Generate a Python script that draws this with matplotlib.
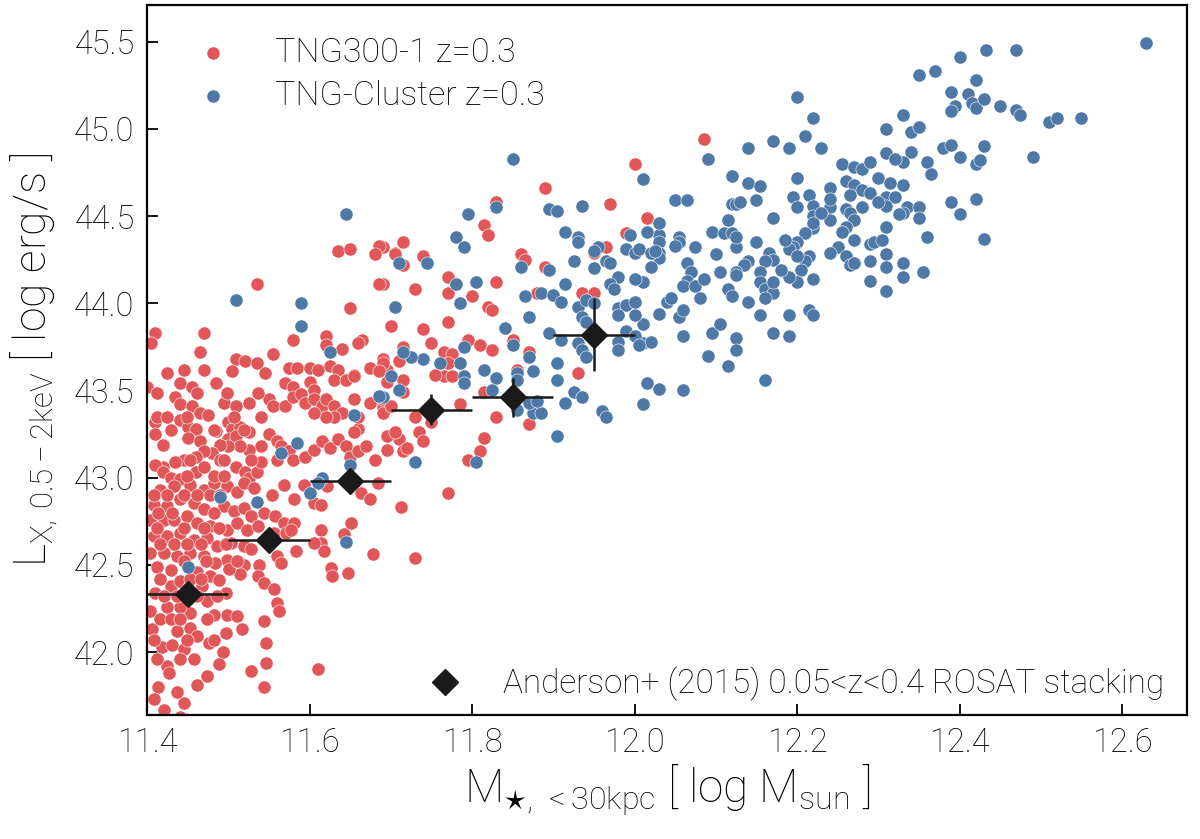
import matplotlib
matplotlib.use("Agg")
import matplotlib.pyplot as plt
from matplotlib.lines import Line2D

plt.rcParams['font.family'] = ['Roboto', 'DejaVu Sans']
plt.rcParams['font.weight'] = 'light'
plt.rcParams['axes.labelweight'] = 'light'
plt.rcParams['mathtext.fontset'] = 'custom'
plt.rcParams['mathtext.rm'] = 'Roboto:light'
plt.rcParams['mathtext.it'] = 'Roboto:light'
plt.rcParams['mathtext.bf'] = 'Roboto:light'
plt.rcParams['mathtext.fallback'] = 'stixsans'

# ---------------- data ----------------
# TNG300-1 z=0.3 : stellar mass (<30kpc) and L_X
tng300_mass = [
    12.085, 12.015, 12.00, 11.89, 11.97, 11.83, 11.815, 11.82, 11.715, 11.705, 11.715, 11.69, 11.74,
    11.86, 11.865, 11.89, 11.965, 11.95, 11.99, 11.77, 11.77, 11.73, 11.83, 11.80, 11.69, 11.88,
    11.935, 11.95, 11.82, 11.825, 11.77, 11.74, 11.75, 11.70, 11.795, 11.81, 11.825, 11.85, 11.87,
    11.765, 11.775, 11.77, 11.765, 11.775, 11.755, 11.715, 11.71, 11.69, 11.695, 11.695, 11.69,
    11.855, 11.93, 11.785, 11.83, 11.87, 11.815, 11.75, 11.73, 11.735, 11.74, 11.71, 11.695, 11.695,
    11.715, 11.72, 11.815, 11.81, 11.795, 11.69, 11.69,
    11.635, 11.65, 11.685, 11.68, 11.705,
    11.535, 11.685, 11.65, 11.47, 11.41, 11.405, 11.465, 11.58, 11.62, 11.62, 11.64, 11.665, 11.66,
    11.555, 11.51, 11.52, 11.535, 11.425, 11.445, 11.47, 11.505, 11.545, 11.575, 11.585, 11.60, 11.61,
    11.625, 11.635, 11.655, 11.675, 11.69, 11.685, 11.40, 11.44, 11.455, 11.485, 11.57, 11.58, 11.60,
    11.605, 11.63, 11.645, 11.655,
    11.435, 11.44, 11.455, 11.465, 11.475, 11.495, 11.51, 11.525, 11.55, 11.555, 11.57, 11.58, 11.59,
    11.595, 11.605, 11.615, 11.62, 11.63, 11.64, 11.63, 11.62, 11.605, 11.655, 11.675, 11.69, 11.70,
    11.715, 11.715,
    11.41, 11.41, 11.42, 11.44, 11.45, 11.46, 11.45, 11.465, 11.485, 11.50, 11.505, 11.515, 11.525,
    11.50, 11.51,
    11.55, 11.56, 11.565, 11.575, 11.54, 11.525, 11.515, 11.50, 11.49, 11.48, 11.47, 11.46, 11.445,
    11.435, 11.42, 11.41, 11.42, 11.43, 11.44, 11.46, 11.47, 11.49, 11.51, 11.52, 11.525, 11.535,
    11.54, 11.58, 11.595, 11.605, 11.615, 11.625, 11.635, 11.645, 11.65, 11.66, 11.67, 11.68, 11.705,
    11.66, 11.655, 11.66,
    11.77, 11.73,
    11.416, 11.433, 11.453, 11.47, 11.482, 11.499, 11.511, 11.519, 11.532, 11.554, 11.569, 11.581,
    11.593, 11.606, 11.614, 11.622, 11.655, 11.663, 11.674, 11.684, 11.713,
    11.408, 11.425, 11.441, 11.458, 11.47, 11.495, 11.507, 11.519, 11.528, 11.544, 11.558, 11.569,
    11.581, 11.614, 11.614, 11.643, 11.651, 11.618, 11.626, 11.628, 11.647, 11.678,
    11.404, 11.421, 11.433, 11.449, 11.462, 11.478, 11.499, 11.511, 11.523, 11.536, 11.556, 11.571,
    11.577, 11.583, 11.606,
    11.408, 11.425, 11.441, 11.458, 11.474, 11.486, 11.503, 11.519, 11.528, 11.56, 11.565, 11.538,
    11.519, 11.499, 11.515, 11.501, 11.536, 11.544, 11.556, 11.56, 11.563,
    11.404, 11.421, 11.437, 11.453, 11.47, 11.484, 11.412, 11.429, 11.462, 11.478, 11.488, 11.497,
    11.499, 11.511, 11.517, 11.497, 11.493, 11.488, 11.476, 11.474, 11.462, 11.445, 11.437, 11.425,
    11.419, 11.406, 11.404, 11.41, 11.429, 11.441, 11.451, 11.468, 11.474, 11.482, 11.453, 11.441,
    11.425, 11.416, 11.437, 11.453, 11.462, 11.431, 11.445, 11.458, 11.427, 11.414, 11.408, 11.421,
    11.441, 11.466,
    11.544, 11.546, 11.546, 11.528, 11.544, 11.61,
    11.408, 11.425, 11.445, 11.462, 11.478, 11.49,
    11.414, 11.431, 11.482,
    11.412, 11.445, 11.47, 11.488,
    11.416, 11.433, 11.449, 11.466, 11.497,
    11.445, 11.472, 11.511,
    11.416, 11.453, 11.466,
    11.421, 11.437, 11.462, 11.486,
    11.429, 11.441, 11.474,
    11.408, 11.449, 11.482,
    11.412, 11.441,
    11.412, 11.462, 11.499, 11.536,
    11.412, 11.425, 11.449, 11.507, 11.54,
    11.429, 11.482, 11.519,
    11.449, 11.482, 11.495,
    11.453, 11.495, 11.528, 11.56,
]
tng300_lx = [
    44.94, 44.49, 44.80, 44.66, 44.57, 44.58, 44.45, 44.39, 44.35, 44.29, 44.22, 44.32, 44.27,
    44.28, 44.25, 44.21, 44.32, 44.29, 44.40, 44.15, 44.06, 44.08, 44.12, 44.04, 44.11, 44.06,
    44.06, 44.06, 43.98, 43.96, 43.89, 43.85, 43.77, 43.87, 43.79, 43.76, 43.73, 43.79, 43.72,
    43.72, 43.71, 43.66, 43.58, 43.58, 43.59, 43.75, 43.67, 43.68, 43.62, 43.55, 43.43,
    43.62, 43.60, 43.42, 43.35, 43.31, 43.49, 43.32, 43.35, 43.26, 43.21, 43.22, 43.24, 43.16,
    43.15, 43.17, 43.23, 43.15, 43.10, 43.40, 43.37,
    44.30, 44.31, 44.33, 44.28, 44.28,
    44.11, 44.11, 43.97, 43.83, 43.83, 43.77, 43.72, 43.79, 43.81, 43.76, 43.74, 43.79, 43.77,
    43.71, 43.68, 43.67, 43.66, 43.60, 43.62, 43.62, 43.61, 43.60, 43.63, 43.63, 43.63, 43.62,
    43.64, 43.62, 43.59, 43.63, 43.66, 43.61, 43.52, 43.54, 43.52, 43.54, 43.54, 43.52, 43.55,
    43.50, 43.56, 43.56, 43.58,
    43.46, 43.42, 43.41, 43.37, 43.36, 43.43, 43.41, 43.43, 43.45, 43.41, 43.41, 43.46, 43.48,
    43.43, 43.45, 43.41, 43.45, 43.41, 43.37, 43.35, 43.35, 43.37, 43.45, 43.43, 43.45, 43.41,
    43.49, 43.56,
    43.32, 43.25, 43.19, 43.33, 43.29, 43.28, 43.23, 43.21, 43.27, 43.32, 43.28, 43.29, 43.26,
    43.22, 43.24,
    43.25, 43.21, 43.18, 43.15, 43.18, 43.16, 43.18, 43.18, 43.19, 43.14, 43.15, 43.12, 43.10,
    43.09, 43.06, 43.07, 43.03, 43.00, 42.99, 43.03, 43.06, 43.10, 43.06, 43.03, 43.00, 43.03,
    43.09, 43.10, 43.12, 43.16, 43.21, 43.17, 43.22, 43.18, 43.12, 43.15, 43.18, 43.10, 43.26,
    43.28, 43.26, 43.35,
    42.91, 42.54,
    42.93, 42.95, 42.96, 42.93, 42.97, 42.95, 42.92, 42.97, 42.94, 42.90, 42.96, 42.875,
    42.96, 42.855, 42.845, 42.95, 42.97, 42.91, 42.875, 42.97, 42.83,
    42.845, 42.835, 42.875, 42.855, 42.82, 42.835, 42.81, 42.825, 42.78, 42.80, 42.78, 42.74,
    42.74, 42.70, 42.625, 42.675, 42.74, 42.58, 42.48, 42.435, 42.455, 42.56,
    42.76, 42.76, 42.76, 42.78, 42.74, 42.72, 42.70, 42.74, 42.70, 42.72, 42.68, 42.68,
    42.70, 42.58, 42.625,
    42.665, 42.665, 42.68, 42.645, 42.655, 42.61, 42.625, 42.61, 42.59, 42.55, 42.51, 42.50,
    42.50, 42.53, 42.445, 42.475, 42.435, 42.395, 42.36, 42.28, 42.235,
    42.57, 42.57, 42.55, 42.57, 42.55, 42.51, 42.49, 42.47, 42.46, 42.435, 42.415, 42.34,
    42.215, 42.205, 42.13, 42.11, 42.00, 41.93, 42.05, 41.86, 41.81, 41.71, 41.77, 41.92,
    42.03, 42.13, 42.235, 42.34, 42.38, 42.41, 42.37, 42.38, 42.29, 42.215, 42.225, 42.26,
    42.26, 42.19, 42.12, 42.14, 42.09, 42.04, 42.015, 41.96, 41.88, 41.80, 41.73, 41.67,
    41.63, 41.61,
    42.18, 42.05, 41.94, 41.89, 41.80, 41.90,
    42.90, 42.90, 42.90, 42.90, 42.90, 42.90,
    42.80, 42.80, 42.80,
    42.71, 42.71, 42.71, 42.71,
    42.617, 42.617, 42.617, 42.617, 42.617,
    42.52, 42.52, 42.52,
    42.416, 42.416, 42.416,
    42.32, 42.32, 42.32, 42.32,
    42.19, 42.19, 42.19,
    42.07, 42.07, 42.07,
    41.96, 41.96,
    43.485, 43.485, 43.485, 43.485,
    43.35, 43.35, 43.35, 43.35, 43.35,
    43.275, 43.275, 43.275,
    43.007, 43.007, 43.007,
    43.10, 43.10, 43.10, 43.10,
]

# TNG-Cluster z=0.3
cluster_mass = [
    12.63, 12.433, 12.47, 12.40, 12.35, 12.37, 12.42, 12.39, 12.41, 12.395, 12.39, 12.415, 12.42,
    12.43, 12.45, 12.47, 12.475, 12.51, 12.52, 12.55, 12.33, 12.34, 12.35, 12.38, 12.39, 12.43,
    12.34, 12.33, 12.36, 12.365, 12.40, 12.42, 12.425, 12.49, 12.33, 12.335, 12.33, 12.35, 12.35,
    12.39, 12.40, 12.42, 12.36, 12.43, 12.33, 12.33, 12.355,
    12.20, 12.22, 12.21, 12.17, 12.19, 12.14, 12.09, 12.23, 12.31, 12.31, 12.32, 12.255, 12.27,
    12.28, 12.29, 12.30, 12.315, 12.20, 12.26, 12.27, 12.24, 12.28, 12.29, 12.265, 12.31, 12.32,
    12.31, 12.30, 12.28, 12.26, 12.265, 12.27, 12.26, 12.255, 12.24, 12.24, 12.24, 12.215, 12.22,
    12.22, 12.195, 12.20, 12.23, 12.22, 12.22, 12.21, 12.325, 12.31, 12.27, 12.29, 12.295, 12.305,
    12.25, 12.26, 12.24, 12.265, 12.27, 12.29, 12.31, 12.31, 12.29, 12.31, 12.20, 12.195, 12.19,
    12.185, 12.215, 12.21, 12.20, 12.205, 12.22, 12.20, 12.19, 12.165, 12.17, 12.16, 12.155, 12.18,
    12.155, 12.16, 12.17, 12.16, 12.17, 12.15, 12.17, 12.14, 12.135, 12.125, 12.125, 12.115, 12.12,
    12.14, 12.105, 12.10, 12.125, 12.095, 12.11, 12.12, 12.125, 12.115, 12.12, 12.125, 12.13, 12.15,
    12.14, 12.155, 12.12, 12.075, 12.05, 12.065, 12.055, 12.055, 12.05, 12.03, 12.03, 12.03, 12.03,
    12.015, 12.03, 12.01, 12.02, 12.01, 12.065, 12.07, 12.065, 12.06, 12.075, 12.085, 12.08, 12.04,
    12.045, 12.03, 12.055, 12.06, 12.01, 12.01, 12.02, 12.06, 12.09, 12.095, 12.105, 12.125, 12.125,
    12.115, 12.155, 12.17, 12.19, 12.19, 12.215, 12.22, 12.16, 12.015, 12.03, 12.06, 12.01,
    11.98, 11.99, 11.98, 12.00, 12.00, 11.99, 11.98, 11.98, 12.00, 12.005, 11.96, 11.965,
    11.85, 11.795, 11.83, 11.895, 11.905, 11.935, 11.78, 11.79, 11.915, 11.93, 11.93, 11.955, 11.95,
    11.995, 11.99, 12.00, 12.005, 12.02, 12.025, 11.71, 11.745, 11.86, 11.895, 11.925, 11.95, 11.965,
    11.97, 11.78, 11.805, 11.98, 11.97, 11.975, 12.00, 11.915, 11.865, 11.885, 11.90, 11.91, 11.785,
    11.705, 11.93, 11.935, 11.94, 11.94, 11.95, 11.87, 11.84, 11.79, 11.895, 11.91, 11.93, 11.935,
    11.94, 11.85, 11.87, 11.875, 11.855, 11.855, 11.83, 11.825, 11.815, 11.785, 11.79, 11.79, 11.76,
    11.74, 11.725, 11.715, 11.70, 11.71, 11.69, 11.905, 11.905, 11.915, 11.925, 11.935, 11.855,
    11.875, 11.885, 11.87, 11.88, 11.905, 11.73, 11.805,
    11.51, 11.59, 11.59, 11.625, 11.685, 11.655, 11.585, 11.565, 11.65, 11.615, 11.61, 11.49,
    11.535, 11.60, 11.645, 11.45, 11.645,
]
cluster_lx = [
    45.49, 45.45, 45.45, 45.41, 45.31, 45.33, 45.28, 45.21, 45.20, 45.13, 45.10, 45.15, 45.12,
    45.17, 45.13, 45.11, 45.08, 45.04, 45.06, 45.06, 45.08, 44.98, 45.01, 44.89, 44.91, 44.90,
    44.87, 44.81, 44.81, 44.74, 44.84, 44.80, 44.82, 44.84, 44.68, 44.55, 44.52, 44.55, 44.49,
    44.58, 44.51, 44.60, 44.38, 44.37, 44.23, 44.15, 44.18,
    45.18, 45.06, 44.96, 44.93, 44.89, 44.89, 44.83, 44.89, 45.00, 44.86, 44.83, 44.80, 44.78,
    44.77, 44.81, 44.72, 44.69, 44.72, 44.70, 44.68, 44.66, 44.65, 44.63, 44.62, 44.61, 44.61,
    44.56, 44.58, 44.55, 44.54, 44.52, 44.48, 44.44, 44.41, 44.55, 44.60, 44.48, 44.62, 44.56,
    44.50, 44.61, 44.55, 44.52, 44.43, 44.46, 44.40, 44.51, 44.44, 44.36, 44.34, 44.35, 44.36,
    44.32, 44.27, 44.29, 44.22, 44.23, 44.24, 44.28, 44.21, 44.13, 44.07, 44.35, 44.32, 44.31,
    44.36, 44.27, 44.24, 44.27, 44.19, 44.14, 44.12, 44.15, 44.29, 44.25, 44.24, 44.18, 44.19,
    44.12, 44.08, 44.06, 44.03, 44.12, 44.35, 44.49, 44.24, 44.22, 44.18, 44.16, 44.08, 44.04,
    44.01, 44.18, 44.28, 44.32, 44.41, 44.40, 44.40, 44.38, 44.48, 44.57, 44.57, 44.58, 44.59,
    44.69, 44.67, 44.73, 44.32, 44.59, 44.59, 44.38, 44.35, 44.33, 44.39, 44.35, 44.29, 44.26,
    44.41, 44.46, 44.71, 44.21, 44.12, 44.23, 44.18, 44.13, 44.10, 44.10, 44.14, 44.03, 44.01,
    44.03, 43.94, 43.92, 43.96, 43.88, 43.77, 43.78, 43.81, 43.70, 43.83, 43.88, 43.80, 43.73,
    43.64, 43.93, 43.83, 43.81, 43.93, 43.96, 43.93, 43.56, 43.54, 43.51, 43.50, 43.42,
    43.97, 43.99, 43.93, 43.93, 44.01, 43.84, 43.78, 43.73, 43.81, 43.76, 43.38, 43.35,
    44.83, 44.51, 44.55, 44.54, 44.53, 44.56, 44.38, 44.32, 44.41, 44.38, 44.35, 44.32, 44.30,
    44.39, 44.31, 44.29, 44.31, 44.29, 44.30, 44.23, 44.23, 44.21, 44.19, 44.24, 44.20, 44.24,
    44.23, 44.11, 44.12, 44.15, 44.11, 44.08, 44.14, 44.11, 44.04, 44.06, 44.05, 44.01, 44.00,
    43.98, 43.98, 43.92, 43.89, 44.02, 44.00, 43.92, 43.86, 43.75, 43.83, 43.79, 43.77, 43.73,
    43.69, 43.76, 43.69, 43.61, 43.60, 43.56, 43.57, 43.50, 43.62, 43.66, 43.58, 43.54, 43.66,
    43.68, 43.69, 43.72, 43.58, 43.50, 43.46, 43.66, 43.56, 43.43, 43.49, 43.46, 43.39,
    43.37, 43.37, 43.43, 43.44, 43.24, 43.09, 43.09,
    44.02, 44.00, 43.87, 43.72, 43.47, 43.36, 43.20, 43.14, 43.07, 43.00, 42.97, 42.89,
    42.86, 42.91, 42.63, 42.49, 44.51,
]

# Anderson+ (2015) ROSAT stacking
anderson_mass = [11.45, 11.55, 11.65, 11.75, 11.85, 11.95]
anderson_lx = [42.33, 42.64, 42.98, 43.39, 43.46, 43.82]
anderson_mass_err = [0.05, 0.05, 0.05, 0.05, 0.05, 0.05]
anderson_lx_err = [0.02, 0.03, 0.03, 0.09, 0.11, 0.21]

RED = '#e15759'
BLUE = '#4e79a7'

fig = plt.figure(figsize=(12, 8.39), dpi=100)
ax = fig.add_axes([0.1225, 0.148, 0.8667, 0.846])

sc1 = ax.scatter(tng300_mass, tng300_lx, s=90, c=RED, edgecolors='white',
                 linewidths=0.4, zorder=2, label='TNG300-1 z=0.3')
sc2 = ax.scatter(cluster_mass, cluster_lx, s=90, c=BLUE, edgecolors='white',
                 linewidths=0.4, zorder=3, label='TNG-Cluster z=0.3')
ax.errorbar(anderson_mass, anderson_lx, xerr=anderson_mass_err, yerr=anderson_lx_err,
            fmt='D', color='#1a1a1a', markersize=13, elinewidth=1.8, capsize=0,
            markeredgecolor='#1a1a1a', zorder=5)

ax.set_xlim(11.4, 12.68)
ax.set_ylim(41.64, 45.71)
ax.set_xticks([11.4, 11.6, 11.8, 12.0, 12.2, 12.4, 12.6])
ax.set_yticks([42.0, 42.5, 43.0, 43.5, 44.0, 44.5, 45.0, 45.5])
ax.tick_params(direction='in', length=8, width=1.3, labelsize=23.5, pad=9,
               top=False, right=False, colors='black')
for sp in ax.spines.values():
    sp.set_linewidth(1.6)

ax.set_xlabel(r'$\mathrm{M}_{\star,\,<30\mathrm{kpc}}$ [ log M$_{\rm sun}$ ]', fontsize=33, labelpad=2)
ax.set_ylabel(r'L$_{\rm X,\,0.5-2keV}$ [ log erg/s ]', fontsize=32, labelpad=10)

leg1 = ax.legend(handles=[sc1, sc2], loc='upper left', frameon=False, fontsize=24.5,
                 markerscale=1.0, handletextpad=0.8, borderaxespad=0.55, labelspacing=0.3)
ax.add_artist(leg1)
dh = Line2D([], [], marker='D', ls='none', color='#1a1a1a', markersize=13)
ax.legend(handles=[dh], labels=['Anderson+ (2015) 0.05<z<0.4 ROSAT stacking'], loc='lower right',
          bbox_to_anchor=(0.991, 0.0), frameon=False, fontsize=24, handletextpad=0.75,
          borderaxespad=0.0)

fig.savefig('out.png', dpi=100)
